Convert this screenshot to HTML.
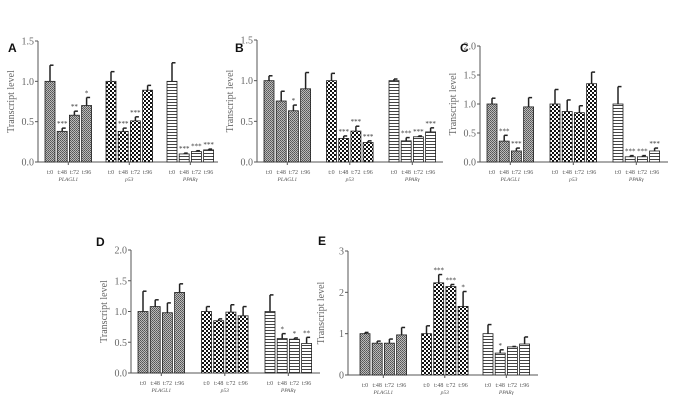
<!DOCTYPE html>
<html><head><meta charset="utf-8"><style>
html,body{margin:0;padding:0;background:#fff;}
svg{display:block;font-family:"Liberation Serif",serif;}
.lt{font-family:"Liberation Sans",sans-serif;font-weight:bold;font-size:12px;}
</style></head><body>
<svg id="fig" width="675" height="405" viewBox="0 0 675 405" xmlns="http://www.w3.org/2000/svg">
<defs>
<pattern id="pPl" width="2" height="2" patternUnits="userSpaceOnUse"><rect width="2" height="2" fill="#bbb"/><rect width="1" height="1" fill="#555"/><rect x="1" y="1" width="1" height="1" fill="#666"/></pattern>
<pattern id="pP53" width="4" height="4" patternUnits="userSpaceOnUse"><rect width="4" height="4" fill="#fff"/><rect width="2" height="2" fill="#111"/><rect x="2" y="2" width="2" height="2" fill="#111"/></pattern>
<pattern id="pPp" width="3" height="3" patternUnits="userSpaceOnUse"><rect width="3" height="3" fill="#fff"/><rect width="3" height="1" fill="#444"/></pattern>
</defs>
</svg>
<script>
const genes = ['PLAGL1','p53','PPARγ'];
const times = ['t:0','t:48','t:72','t:96'];
const aVals = [[1.0,0.38,0.58,0.70],[1.0,0.38,0.51,0.89],[1.0,0.10,0.13,0.15]];
const aErr = [[0.2,0.04,0.05,0.1],[0.12,0.04,0.05,0.06],[0.23,0.01,0.01,0.01]];
const aStars = [['','***','**','*'],['','***','***',''],['','***','***','***']];
const bVals = [[1.0,0.75,0.63,0.90],[1.0,0.29,0.38,0.24],[1.0,0.26,0.31,0.37]];
const bErr = [[0.06,0.12,0.07,0.2],[0.09,0.03,0.06,0.02],[0.02,0.04,0.01,0.05]];
const bStars = [['','','*',''],['','***','***','***'],['','***','***','***']];
const cVals = [[1.0,0.36,0.19,0.95],[1.0,0.87,0.85,1.35],[1.0,0.09,0.09,0.19]];
const cErr = [[0.1,0.1,0.05,0.16],[0.25,0.2,0.12,0.2],[0.3,0.02,0.02,0.05]];
const cStars = [['','***','***',''],['','','',''],['','***','***','***']];
const dVals = [[1.0,1.08,0.98,1.31],[1.0,0.85,0.99,0.93],[1.0,0.56,0.55,0.48]];
const dErr = [[0.33,0.11,0.16,0.14],[0.08,0.03,0.12,0.15],[0.27,0.08,0.02,0.1]];
const dStars = [['','','',''],['','','',''],['','*','*','**']];
const eVals = [[1.0,0.77,0.77,0.97],[1.0,2.23,2.14,1.66],[1.0,0.53,0.68,0.75]];
const eErr = [[0.03,0.05,0.1,0.18],[0.19,0.2,0.05,0.36],[0.22,0.08,0.01,0.17]];
const eStars = [['','','',''],['','***','***','*'],['','*','','']];
const abTicks = ['0.0','0.5','1.0','1.5'];
const cdTicks = ['0.0','0.5','1.0','1.5','2.0'];
const eTicks = ['0','1','2','3'];

const NS='http://www.w3.org/2000/svg';
const svg=document.getElementById('fig');
function mk(tag,attrs,parent,text){const e=document.createElementNS(NS,tag);for(const k in attrs)e.setAttribute(k,attrs[k]);if(text!==undefined)e.textContent=text;(parent||svg).appendChild(e);return e;}
const fills=['url(#pPl)','url(#pP53)','url(#pPp)'];

function panel(o){
  const g=mk('g',{});
  
  
  const ymax=parseFloat(o.ticks[o.ticks.length-1]);
  const y=v=>o.y0-(v/ymax)*(o.y0-o.yTop);
  const lt=mk('text',{x:o.lx,y:o.ly,class:'lt',fill:'#111'},g,o.letter);
  
  
  const ya=mk('line',{x1:o.x0,y1:o.yTop,x2:o.x0,y2:o.y0,stroke:'#555','stroke-width':1},g);
  
  
  o.ticks.forEach(t=>{const yy=y(parseFloat(t));
    mk('line',{x1:o.x0-3,y1:yy,x2:o.x0,y2:yy,stroke:'#555'},g);
    const tl=mk('text',{x:o.x0-4,y:yy+3.5,'text-anchor':'end','font-size':10,fill:'#666'},g,t);
    
    
  });
  const tx=o.x0-24, ty=(o.y0+o.yTop)/2;
  const yt=mk('text',{x:tx,y:ty,transform:`rotate(-90 ${tx} ${ty})`,'text-anchor':'middle','font-size':10,fill:'#666'},g,'Transcript level');
  
  
  const xa=mk('line',{x1:o.x0,y1:o.y0,x2:o.xEnd,y2:o.y0,stroke:'#555','stroke-width':1},g);
  
  
  const bw=10, step=12.2;
  genes.forEach((gn,gi)=>{
    const gx=o.x0+o.off+gi*o.gs;
    times.forEach((t,ti)=>{
      const v=o.vals[gi][ti], e=o.err[gi][ti];
      const bx=gx+ti*step, by=y(v);
      const r=mk('rect',{x:bx,y:by,width:bw,height:o.y0-by,fill:fills[gi],stroke:'#222','stroke-width':0.8},g);
      
      
      const ey=y(v+e), cx=bx+bw/2;
      const el=mk('line',{x1:cx,y1:by,x2:cx,y2:ey,stroke:'#222','stroke-width':1.5},g);
      
      
      mk('line',{x1:cx,y1:ey,x2:cx+3.5,y2:ey,stroke:'#222','stroke-width':1.5},g);
      const s=o.stars[gi][ti];
      if(s){const st=mk('text',{x:cx,y:ey-2,'text-anchor':'middle','font-size':7,fill:'#333'},g,s);
        
        }
      const tk=mk('text',{x:cx,y:o.y0+12,'text-anchor':'middle','font-size':6,fill:'#555'},g,t);
      
      
    });
    const mid=gx+1.5*step+bw/2;
    mk('line',{x1:mid,y1:o.y0,x2:mid,y2:o.y0+3,stroke:'#555'},g);
    const gl=mk('text',{x:mid,y:o.y0+19,'text-anchor':'middle','font-size':5.5,'font-style':'italic',fill:'#555'},g,gn);
    
    
  });
}
panel({letter:'A',lx:8,ly:52,x0:38,xEnd:218,yTop:41,y0:162,off:7,gs:61,ticks:abTicks,vals:aVals,err:aErr,stars:aStars});
panel({letter:'B',lx:235,ly:52,x0:257,xEnd:443,yTop:40,y0:162,off:7,gs:62.5,ticks:abTicks,vals:bVals,err:bErr,stars:bStars});
panel({letter:'C',lx:460,ly:52,x0:480,xEnd:668,yTop:46,y0:162,off:7,gs:63,ticks:cdTicks,vals:cVals,err:cErr,stars:cStars});
panel({letter:'D',lx:96,ly:246,x0:131,xEnd:320,yTop:250,y0:373,off:7,gs:63.5,ticks:cdTicks,vals:dVals,err:dErr,stars:dStars});
panel({letter:'E',lx:318,ly:245,x0:348,xEnd:538,yTop:251,y0:375,off:12,gs:61.5,ticks:eTicks,vals:eVals,err:eErr,stars:eStars});
</script>
</body></html>
